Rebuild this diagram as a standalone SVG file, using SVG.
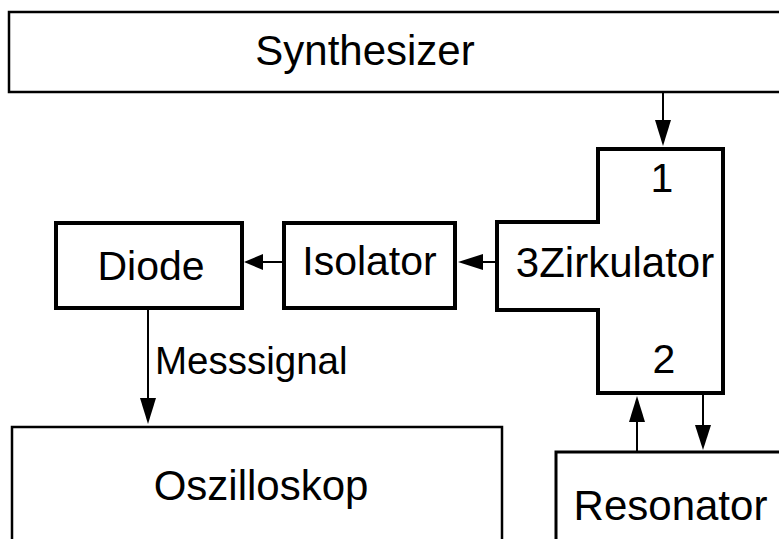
<svg xmlns="http://www.w3.org/2000/svg" width="779" height="539" viewBox="0 0 779 539">
<style>
  .box { fill: #ffffff; stroke: #000000; }
  .thin { stroke-width: 2.5; }
  .thick { stroke-width: 4; }
  .lbl { font-family: "Liberation Sans", Arial, sans-serif; fill: #000000; }
  .conn { stroke: #000000; stroke-width: 2; fill: none; }
  .head { fill: #000000; stroke: none; }
</style>
<rect x="0" y="0" width="779" height="539" fill="#ffffff"/>
<g id="synthesizer">
  <rect class="box thin" x="9" y="12" width="790" height="80"/>
  <text class="lbl" x="365" y="65" font-size="42" text-anchor="middle">Synthesizer</text>
</g>
<g id="zirkulator">
  <polygon class="box thick" points="598,149 723,149 723,393 598,393 598,310 497,310 497,222 598,222"/>
  <text class="lbl" x="662" y="192" font-size="41" text-anchor="middle">1</text>
  <text class="lbl" x="615" y="277" font-size="42" text-anchor="middle">3Zirkulator</text>
  <text class="lbl" x="664" y="373" font-size="41" text-anchor="middle">2</text>
</g>
<g id="isolator">
  <rect class="box thick" x="284" y="223" width="171" height="85"/>
  <text class="lbl" x="369.5" y="275" font-size="41" text-anchor="middle">Isolator</text>
</g>
<g id="diode">
  <rect class="box thick" x="56" y="223" width="186" height="85"/>
  <text class="lbl" x="151" y="280" font-size="41" text-anchor="middle">Diode</text>
</g>
<g id="oszilloskop">
  <rect class="box thin" x="12" y="427" width="490" height="140"/>
  <text class="lbl" x="261" y="500" font-size="42" text-anchor="middle">Oszilloskop</text>
</g>
<g id="resonator">
  <rect class="box" stroke-width="3" x="556" y="452" width="260" height="120"/>
  <text class="lbl" x="670.5" y="520" font-size="42" text-anchor="middle">Resonator</text>
</g>
<g id="connectors">
  <line class="conn" x1="663" y1="92" x2="663" y2="122"/>
  <polygon class="head" points="655,120 671,120 663,146"/>
  <line class="conn" x1="497" y1="262" x2="480" y2="262"/>
  <polygon class="head" points="483,254 483,270 458,262"/>
  <line class="conn" x1="284" y1="262" x2="260" y2="262"/>
  <polygon class="head" points="263,254 263,270 244,262"/>
  <line class="conn" x1="148" y1="308" x2="148" y2="400"/>
  <polygon class="head" points="140,398 156,398 148,424"/>
  <text class="lbl" x="155" y="374" font-size="38.5">Messsignal</text>
  <line class="conn" x1="637" y1="452" x2="637" y2="420"/>
  <polygon class="head" points="629,422 645,422 637,396"/>
  <line class="conn" x1="703" y1="393" x2="703" y2="427"/>
  <polygon class="head" points="695,425 711,425 703,450"/>
</g>
</svg>
